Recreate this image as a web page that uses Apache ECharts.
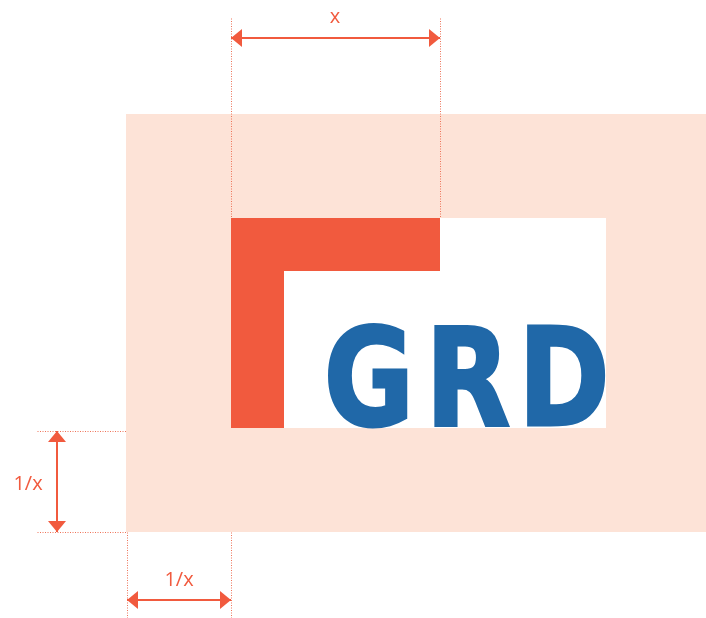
<!DOCTYPE html>
<html>
<head>
<meta charset="utf-8">
<title>GRD clear space</title>
<script src="https://cdn.jsdelivr.net/npm/echarts@6/dist/echarts.min.js"></script>
<style>
  html, body { margin: 0; padding: 0; background: #fff; }
  #chart { width: 706px; height: 618px; }
</style>
</head>
<body>
<div id="chart"></div>
<script>
// canvas extents, in diagram units (1 unit = 1 px)
const W = 706;
const H = 618;

// filled areas: [x0, y0, x1, y1]
const areaNames = ["clearspace", "logoBack", "cornerTop", "cornerSide"];
const areaBounds = [
	[126, 114, 706, 532],
	[231, 218, 606, 428],
	[231, 218, 440, 271],
	[231, 218, 284, 428]
];

// dotted guide lines: [x0, y0, x1, y1]
const guides = [
	[231, 18, 231, 218],
	[440, 18, 440, 218],
	[37, 431, 127, 431],
	[37, 532, 127, 532],
	[127, 532, 127, 618],
	[231, 532, 231, 618]
];

// dimension arrows and their labels
const arrows = [
	[231, 38, 440, 38],
	[57, 431, 57, 532],
	[127, 600, 231, 600]
];
const arrowLabels = ["x", "1/x", "1/x"];
const labelAt = [
	[335, 17],
	[28, 484],
	[179, 580]
];

// the word mark
const wordmark = ["G", "R", "D"];
const letterCenters = [369, 468, 564];
const letterMiddle = 390;

const ORANGE = "#F15A3E";
const areaColors = {
	clearspace: "#FDE3D7",
	logoBack: "#FFFFFF",
	cornerTop: ORANGE,
	cornerSide: ORANGE
};

const chart = echarts.init(document.getElementById("chart"));

/**
 * 矩形区域
 */
function renderArea(params, api) {
	const p0 = api.coord([api.value(0), api.value(1)]);
	const p1 = api.coord([api.value(2), api.value(3)]);
	return {
		type: "rect",
		shape: {
			x: Math.min(p0[0], p1[0]),
			y: Math.min(p0[1], p1[1]),
			width: Math.abs(p1[0] - p0[0]),
			height: Math.abs(p1[1] - p0[1])
		},
		style: { fill: areaColors[areaNames[params.dataIndex]] }
	};
}

function renderGuide(params, api) {
	const p0 = api.coord([api.value(0), api.value(1)]);
	const p1 = api.coord([api.value(2), api.value(3)]);
	return {
		type: "line",
		shape: { x1: p0[0] + 0.5, y1: p0[1] + 0.5, x2: p1[0] + 0.5, y2: p1[1] + 0.5 },
		style: { stroke: "#EE7358", lineWidth: 1, lineDash: [1, 1.5] }
	};
}

function arrowHead(tip, dx, dy) {
	const len = 11, half = 9;
	const bx = tip[0] - dx * len, by = tip[1] - dy * len;
	return {
		type: "polygon",
		shape: {
			points: [
				tip,
				[bx - dy * half, by + dx * half],
				[bx + dy * half, by - dx * half]
			]
		},
		style: { fill: ORANGE }
	};
}

function renderArrow(params, api) {
	const p0 = api.coord([api.value(0), api.value(1)]);
	const p1 = api.coord([api.value(2), api.value(3)]);
	const d = Math.hypot(p1[0] - p0[0], p1[1] - p0[1]);
	const dx = (p1[0] - p0[0]) / d, dy = (p1[1] - p0[1]) / d;
	const i = params.dataIndex;
	const lp = api.coord(labelAt[i]);
	return {
		type: "group",
		children: [
			{
				type: "line",
				shape: { x1: p0[0], y1: p0[1], x2: p1[0], y2: p1[1] },
				style: { stroke: ORANGE, lineWidth: 2 }
			},
			arrowHead(p1, dx, dy),
			arrowHead(p0, -dx, -dy),
			{
				type: "text",
				x: lp[0],
				y: lp[1],
				style: {
					text: arrowLabels[i],
					fill: ORANGE,
					fontSize: 20,
					fontFamily: "Open Sans",
					align: "center",
					verticalAlign: "middle"
				}
			}
		]
	};
}

function renderLetter(params, api) {
	const p = api.coord([api.value(0), letterMiddle]);
	return {
		type: "text",
		x: p[0],
		y: p[1],
		scaleX: 0.81,
		style: {
			text: wordmark[params.dataIndex],
			fill: "#2068A8",
			stroke: "#2068A8",
			lineWidth: 3,
			fontSize: 136,
			fontWeight: "bold",
			fontFamily: "DejaVu Sans",
			align: "center",
			verticalAlign: "middle"
		}
	};
}

chart.setOption({
	animation: false,
	grid: { left: 0, right: 0, top: 0, bottom: 0 },
	xAxis: { type: "value", min: 0, max: W, show: false },
	yAxis: { type: "value", min: 0, max: H, inverse: true, show: false },
	series: [
		{ type: "custom", renderItem: renderArea, data: areaBounds, silent: true },
		{
			type: "custom",
			renderItem: renderLetter,
			data: letterCenters.map(c => [c]),
			silent: true
		},
		{ type: "custom", renderItem: renderGuide, data: guides, silent: true },
		{ type: "custom", renderItem: renderArrow, data: arrows, silent: true }
	]
});
</script>
</body>
</html>
